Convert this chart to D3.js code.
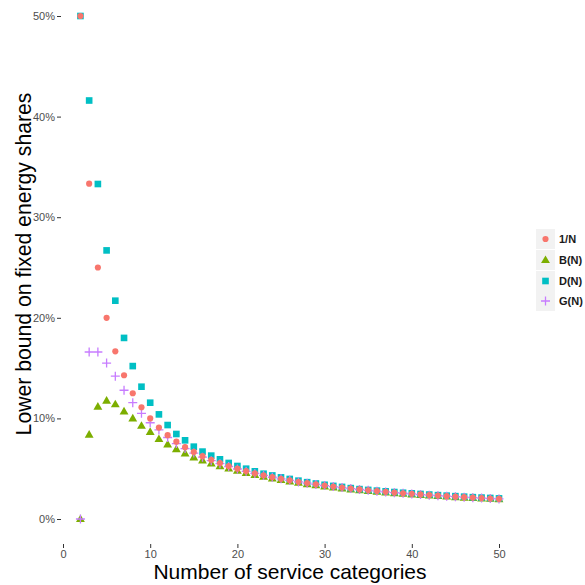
<!DOCTYPE html>
<html>
<head>
<meta charset="utf-8">
<script src="https://cdn.jsdelivr.net/npm/d3@7"></script>
<style>
  html, body { margin: 0; padding: 0; background: #fff; }
  svg { display: block; font-family: "Liberation Sans", Arial, sans-serif; }
</style>
</head>
<body>
<svg id="chart" width="585" height="585"></svg>
<script>
// ---- Data ----
const categories = [2,3,4,5,6,7,8,9,10,11,12,13,14,15,16,17,18,19,20,21,22,23,24,25,26,27,28,29,30,31,32,33,34,35,36,37,38,39,40,41,42,43,44,45,46,47,48,49,50];
const seriesNames = ["1/N", "B(N)", "D(N)", "G(N)"];
const oneOverN = [50,33.33,25,20,16.67,14.29,12.5,11.11,10,9.09,8.33,7.69,7.14,6.67,6.25,5.88,5.56,5.26,5,4.76,4.55,4.35,4.17,4,3.85,3.7,3.57,3.45,3.33,3.23,3.13,3.03,2.94,2.86,2.78,2.7,2.63,2.56,2.5,2.44,2.38,2.33,2.27,2.22,2.17,2.13,2.08,2.04,2.0];
const bN = [0,8.38,11.16,11.76,11.4,10.7,10.0,9.27,8.65,7.95,7.42,6.95,6.52,6.13,5.82,5.52,5.26,5.02,4.79,4.58,4.38,4.2,4.03,3.88,3.73,3.6,3.47,3.35,3.24,3.14,3.04,2.95,2.87,2.79,2.71,2.64,2.57,2.51,2.45,2.39,2.33,2.28,2.23,2.18,2.13,2.09,2.05,2.01,1.97];
const dN = [50,41.6,33.3,26.7,21.7,18.0,15.2,13.15,11.56,10.4,9.34,8.45,7.82,7.19,6.7,6.3,5.93,5.57,5.27,5.0,4.74,4.5,4.33,4.14,3.98,3.81,3.66,3.53,3.4,3.29,3.19,3.07,2.97,2.89,2.82,2.75,2.68,2.61,2.55,2.49,2.43,2.37,2.32,2.27,2.22,2.17,2.13,2.09,2.05];
const gN = [0,16.6,16.6,15.5,14.2,12.8,11.56,10.5,9.57,8.85,8.1,7.5,7.0,6.55,6.15,5.8,5.5,5.22,4.97,4.74,4.53,4.33,4.15,3.99,3.84,3.69,3.56,3.44,3.32,3.22,3.12,3.02,2.93,2.85,2.77,2.69,2.62,2.56,2.49,2.43,2.37,2.32,2.27,2.22,2.17,2.12,2.08,2.04,2.0];
const xTicks = [0,10,20,30,40,50];
const yTicks = [0,10,20,30,40,50];
const yTickLabels = ["0%","10%","20%","30%","40%","50%"];
const colors = ["#F8766D", "#7CAE00", "#00BFC4", "#C77CFF"];

const seriesValues = [oneOverN, bN, dN, gN];

// ---- Layout ----
const svg = d3.select("#chart");
const x = d3.scaleLinear().domain([0, 50]).range([63, 499]);
const y = d3.scaleLinear().domain([0, 50]).range([519, 16]);

// symbols
const sym = [
  d3.symbol().type(d3.symbolCircle).size(30),
  d3.symbol().type(d3.symbolTriangle).size(34),
  d3.symbol().type(d3.symbolSquare).size(44),
  d3.symbol().type(d3.symbolCross).size(0)
];
function drawMark(g, si, cx, cy, scale) {
  const s = scale || 1;
  if (si === 3) {
    const h = 4.5 * s;
    g.append("path")
      .attr("d", `M${cx - h},${cy}H${cx + h}M${cx},${cy - h}V${cy + h}`)
      .attr("stroke", colors[3]).attr("stroke-width", 1.3).attr("fill", "none");
  } else {
    g.append("path")
      .attr("d", sym[si]())
      .attr("transform", `translate(${cx},${cy})${si === 1 ? " translate(0,0.5)" : ""}`)
      .attr("fill", colors[si]);
  }
}

// axes: ticks only, no axis lines
const yAxis = d3.axisLeft(y).tickValues(yTicks).tickFormat((d, i) => yTickLabels[i]).tickSize(4).tickPadding(2);
const yg = svg.append("g").attr("transform", "translate(61,0)").call(yAxis);
yg.select(".domain").remove();
yg.selectAll("line").attr("stroke", "#333").attr("stroke-width", 1);
yg.selectAll("text").attr("fill", "#4d4d4d").attr("font-size", 11).attr("font-family", "Liberation Sans, Arial, sans-serif");

const xAxis = d3.axisBottom(x).tickValues(xTicks).tickSize(4).tickPadding(2);
const xg = svg.append("g").attr("transform", "translate(0,544)").call(xAxis);
xg.select(".domain").remove();
xg.selectAll("line").attr("stroke", "#333").attr("stroke-width", 1);
xg.selectAll("text").attr("fill", "#4d4d4d").attr("font-size", 11).attr("font-family", "Liberation Sans, Arial, sans-serif");

// points: draw order B, D, G, 1/N
const marks = svg.append("g");
[1, 2, 3, 0].forEach(si => {
  categories.forEach((n, i) => {
    drawMark(marks, si, x(n), y(seriesValues[si][i]));
  });
});

// axis titles
svg.append("text")
  .attr("x", 290).attr("y", 579)
  .attr("text-anchor", "middle")
  .attr("font-size", 21)
  .attr("fill", "#000")
  .text("Number of service categories");
svg.append("text")
  .attr("transform", "translate(31,264) rotate(-90)")
  .attr("text-anchor", "middle")
  .attr("font-size", 21.2)
  .attr("fill", "#000")
  .text("Lower bound on fixed energy shares");

// legend
const legend = svg.append("g");
const rowY = [239, 260, 281, 301];
seriesNames.forEach((name, i) => {
  legend.append("rect")
    .attr("x", 536).attr("y", rowY[i] - 10)
    .attr("width", 19).attr("height", 20)
    .attr("fill", "#f2f2f2");
  drawMark(legend, i, 545.5, rowY[i], 1);
  legend.append("text")
    .attr("x", 559).attr("y", rowY[i] + 4)
    .attr("font-size", 11).attr("font-weight", "bold")
    .attr("fill", "#1a1a1a")
    .text(name);
});
</script>
</body>
</html>
